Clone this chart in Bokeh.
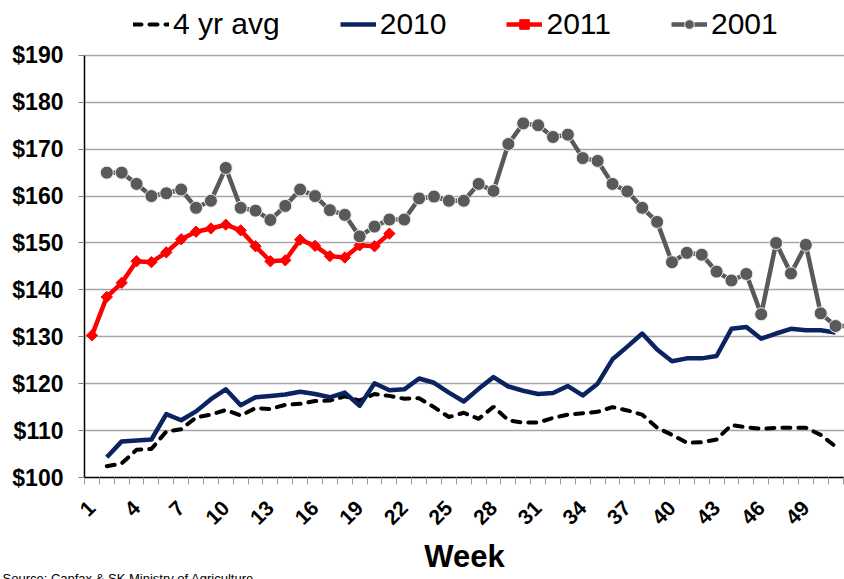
import math
from bokeh.plotting import figure
from bokeh.models import Range1d, FixedTicker, Legend, LegendItem, Title
from bokeh.embed import file_html
from bokeh.resources import INLINE

# ---------------- data ----------------
weeks_avg = list(range(2, 52))
avg_4yr = [102.4, 103.0, 105.9, 106.1, 109.8, 110.3, 112.8, 113.4, 114.4, 113.2,
           114.8, 114.6, 115.5, 115.7, 116.3, 116.4, 117.3, 116.4, 117.8, 117.4,
           116.8, 116.9, 115.0, 112.9, 113.8, 112.5, 115.1, 112.2, 111.7, 111.7,
           112.7, 113.4, 113.7, 114.0, 115.0, 114.3, 113.4, 110.6, 109.1, 107.4,
           107.5, 108.1, 111.2, 110.7, 110.4, 110.6, 110.6, 110.6, 109.1, 106.6]

weeks_2010 = list(range(2, 52))
price_2010 = [104.3, 107.7, 107.9, 108.1, 113.5, 112.2, 114.1, 116.7, 118.8, 115.4,
              117.1, 117.4, 117.7, 118.3, 117.8, 117.1, 118.1, 115.3, 120.1, 118.6,
              118.8, 121.1, 120.2, 118.1, 116.2, 118.9, 121.4, 119.4, 118.5, 117.8,
              118.0, 119.5, 117.5, 120.0, 125.2, 127.9, 130.7, 127.3, 124.8, 125.4,
              125.4, 125.9, 131.7, 132.1, 129.6, 130.7, 131.7, 131.4, 131.4, 130.9]

weeks_2011 = list(range(1, 22))
price_2011 = [130.3, 138.5, 141.5, 146.1, 145.9, 148.0, 150.8, 152.4, 153.1, 153.9,
              152.7, 149.3, 146.1, 146.3, 150.7, 149.4, 147.2, 146.9, 149.5, 149.3,
              152.0]

weeks_2001 = list(range(2, 53))
price_2001 = [165.0, 165.0, 162.6, 160.0, 160.6, 161.4, 157.5, 159.0, 166.0, 157.5,
              156.9, 154.9, 157.9, 161.4, 160.0, 157.0, 156.0, 151.4, 153.5, 155.0,
              155.0, 159.5, 159.9, 159.0, 159.0, 162.6, 161.1, 171.1, 175.5, 175.1,
              172.6, 173.1, 168.1, 167.5, 162.6, 161.0, 157.5, 154.5, 145.9, 147.9,
              147.5, 143.9, 142.0, 143.4, 134.8, 150.0, 143.5, 149.6, 135.0, 132.3,
              132.3]

x_tick_weeks = list(range(1, 50, 3))
x_tick_labels = [str(w) for w in x_tick_weeks]
y_ticks = list(range(100, 191, 10))
y_tick_labels = ["$" + str(v) for v in y_ticks]

series_names = ["4 yr avg", "2010", "2011", "2001"]
x_title = "Week"
source_note = "Source: Canfax & SK Ministry of Agriculture"

FONT = "Liberation Sans"

# ---------------- figure ----------------
# the frame reaches the top of the canvas so that the legend (drawn inside
# the frame) sits above the $190 line, as in the original
p = figure(width=844, height=579, output_backend="svg", toolbar_location=None,
           title=None, x_range=Range1d(0.5, 51.6), y_range=Range1d(100, 201.7),
           min_border_left=84, min_border_right=0, min_border_top=0,
           min_border_bottom=100)
p.outline_line_color = None
p.background_fill_color = "white"
p.border_fill_color = "white"

r_avg = p.line(weeks_avg, avg_4yr, line_color="black", line_width=4,
               line_dash="8 8", line_cap="round")
r_10 = p.line(weeks_2010, price_2010, line_color="#0b2461", line_width=4.5,
              line_join="round")
r_11l = p.line(weeks_2011, price_2011, line_color="#ff0000", line_width=4.5,
               line_join="round")
r_11m = p.scatter(weeks_2011, price_2011, marker="square", angle=math.pi / 4,
                  size=8, fill_color="#ff0000", line_color="#ff0000")
r_01l = p.line(weeks_2001, price_2001, line_color="#595959", line_width=4.5,
               line_join="round")
r_01m = p.scatter(weeks_2001, price_2001, marker="circle", size=13,
                  fill_color="#595959", line_color="#eeeeee", line_width=1)

# x axis
xa = p.xaxis[0]
xa.ticker = FixedTicker(ticks=x_tick_weeks,
                        minor_ticks=[w - 0.5 for w in range(1, 54)])
xa.major_label_overrides = dict(zip(x_tick_weeks, x_tick_labels))
xa.major_label_orientation = math.pi / 4
xa.major_tick_out = 0
xa.major_tick_in = 0
xa.minor_tick_out = 7
xa.minor_tick_in = 0
xa.minor_tick_line_color = "#9a9a9a"
xa.minor_tick_line_width = 1
xa.axis_line_color = "black"
xa.axis_line_width = 1.5
xa.major_label_text_font = FONT
xa.major_label_text_font_style = "bold"
xa.major_label_text_font_size = "21px"
xa.major_label_text_color = "black"
xa.major_label_standoff = 20
xa.axis_label = x_title
xa.axis_label_standoff = 5
xa.axis_label_text_font = FONT
xa.axis_label_text_font_style = "bold"
xa.axis_label_text_font_size = "31px"
xa.axis_label_text_color = "black"

# y axis
ya = p.yaxis[0]
ya.ticker = FixedTicker(ticks=y_ticks)
ya.major_label_overrides = dict(zip(y_ticks, y_tick_labels))
ya.bounds = (100, 190)
ya.major_tick_out = 6
ya.major_tick_in = 0
ya.major_tick_line_color = "#808080"
ya.minor_tick_line_color = None
ya.axis_line_color = "black"
ya.axis_line_width = 1.5
ya.major_label_text_font = FONT
ya.major_label_text_font_style = "bold"
ya.major_label_text_font_size = "23px"
ya.major_label_text_color = "black"
ya.major_label_standoff = 15

p.xgrid.visible = False
p.ygrid.ticker = FixedTicker(ticks=y_ticks)
p.ygrid.grid_line_color = "#a6a6a6"
p.ygrid.grid_line_width = 1.5

legend = Legend(items=[
    LegendItem(label=series_names[0], renderers=[r_avg]),
    LegendItem(label=series_names[1], renderers=[r_10]),
    LegendItem(label=series_names[2], renderers=[r_11l, r_11m]),
    LegendItem(label=series_names[3], renderers=[r_01l, r_01m]),
], orientation="horizontal", location=(49, 436),
    label_text_font=FONT, label_text_font_size="30px", label_text_color="black",
    glyph_width=36, glyph_height=24, label_standoff=4, spacing=60,
    padding=0, margin=0, border_line_color=None, background_fill_alpha=0)
p.add_layout(legend)

# source note: near-zero-height panel, centred on the lower edge of the axis
p.add_layout(Title(text=source_note, align="left", vertical_align="middle",
                   offset=-82, standoff=-14,
                   text_font=FONT, text_font_style="normal",
                   text_font_size="13px", text_color="black"), "below")

open("out.html", "w").write(file_html(p, INLINE))
